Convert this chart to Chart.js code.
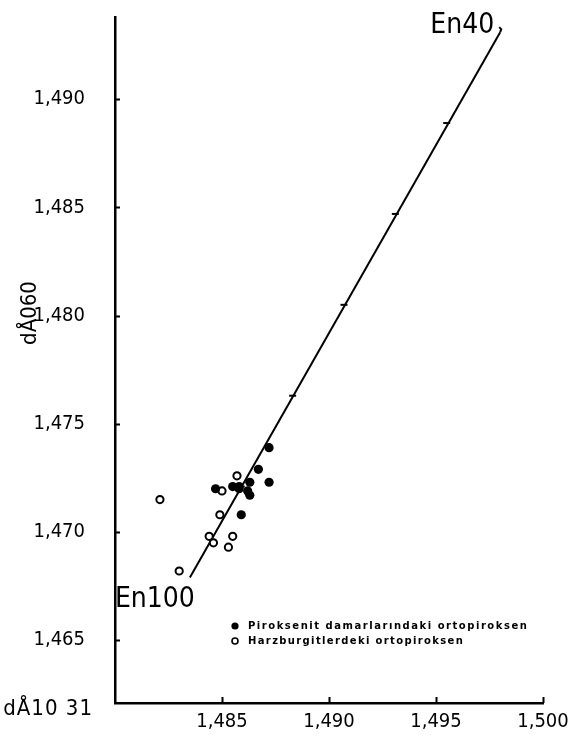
<!DOCTYPE html>
<html><head><meta charset="utf-8">
<script src="https://cdn.jsdelivr.net/npm/chart.js@4/dist/chart.umd.min.js"></script>
<style>html,body{margin:0;padding:0;background:#fff}#wrap{width:581px;height:737px;position:relative}canvas{display:block}</style>
</head><body><div id="wrap"><canvas id="c" width="581" height="737"></canvas></div>
<script>
// ---- data ----
const seriesNames = ['Piroksenit damarlarındaki ortopiroksen', 'Harzburgitlerdeki ortopiroksen'];
// filled circles: pyroxenite veins
const filledX = [1.4872, 1.4867, 1.4872, 1.4863, 1.4855, 1.4858, 1.4862, 1.4863, 1.4847, 1.4859, 1.4858];
const filledY = [1.4739, 1.4729, 1.4723, 1.4723, 1.4721, 1.4720, 1.4719, 1.4717, 1.4720, 1.4708, 1.4721];
// open circles: harzburgites
const openX = [1.4821, 1.4857, 1.4850, 1.4849, 1.4844, 1.4846, 1.4855, 1.4853, 1.4830];
const openY = [1.4715, 1.4726, 1.4719, 1.4708, 1.4698, 1.4695, 1.4698, 1.4693, 1.4682];
// En100 - En40 reference line
const lineLabels = ['En100', 'En40'];
const lineX = [1.4835, 1.4980];
const lineY = [1.4679, 1.4931];
// composition marks along the line (En90 ... En50)
const markX = [1.4859, 1.4883, 1.4907, 1.4931, 1.4955];
const markY = [1.4721, 1.4763, 1.4805, 1.4847, 1.4889];
// axes
const xTicks = [1.485, 1.490, 1.495, 1.500];
const yTicks = [1.465, 1.470, 1.475, 1.480, 1.485, 1.490];
const xAxisLabel = 'dÅ10 31';
const yAxisLabel = 'dÅ060';

const COND = "'DejaVu Sans Condensed', 'Liberation Sans Narrow', sans-serif";
const fmt = v => Number(v).toFixed(3).replace('.', ',');
const pts = (xs, ys) => xs.map((x, i) => ({x, y: ys[i]}));

const overlay = {
  id: 'overlay',
  afterDraw(chart) {
    const {ctx, scales: {x, y}, chartArea: a} = chart;
    ctx.save();
    ctx.strokeStyle = '#000';
    ctx.fillStyle = '#000';
    ctx.lineWidth = 2;
    // inside tick marks
    yTicks.forEach(v => { const py = Math.round(y.getPixelForValue(v)) + 0.5; ctx.beginPath(); ctx.moveTo(a.left, py); ctx.lineTo(a.left + 5, py); ctx.stroke(); });
    xTicks.forEach(v => { const px = Math.round(x.getPixelForValue(v)) + 0.5; ctx.beginPath(); ctx.moveTo(px, a.bottom); ctx.lineTo(px, a.bottom - 6); ctx.stroke(); });
    // end labels of the line
    ctx.font = '28px ' + COND;
    ctx.textBaseline = 'alphabetic';
    const x0 = x.getPixelForValue(lineX[0]), y0 = y.getPixelForValue(lineY[0]);
    const x1 = x.getPixelForValue(lineX[1]), y1 = y.getPixelForValue(lineY[1]);
    ctx.textAlign = 'left';
    ctx.fillText(lineLabels[0], x0 - 75, y0 + 30);
    ctx.textAlign = 'right';
    ctx.fillText(lineLabels[1], x1 - 6, y1 + 1);
    // small hook at top of the line
    ctx.lineWidth = 2;
    ctx.beginPath(); ctx.moveTo(x1, y1); ctx.lineTo(x1 + 1, y1 - 3); ctx.lineTo(x1 - 1, y1 - 5); ctx.stroke();
    // axis labels
    ctx.font = '22px ' + COND;
    ctx.textAlign = 'right';
    ctx.letterSpacing = '1px';
    ctx.fillText(xAxisLabel, a.left - 22, a.bottom + 12);
    ctx.letterSpacing = '0px';
    ctx.save();
    ctx.translate(36, 313);
    ctx.rotate(-Math.PI / 2);
    ctx.textAlign = 'center';
    ctx.fillText(yAxisLabel, 0, 0);
    ctx.restore();
    // legend
    const lx = 235, ly = [626, 641], targetW = [279, 215];
    ctx.font = 'bold 10px "DejaVu Sans", sans-serif';
    ctx.textAlign = 'left';
    ctx.textBaseline = 'middle';
    seriesNames.forEach((name, i) => {
      ctx.beginPath();
      if (i === 0) { ctx.arc(lx, ly[i], 3.6, 0, Math.PI * 2); ctx.fill(); }
      else { ctx.lineWidth = 1.6; ctx.arc(lx, ly[i], 3, 0, Math.PI * 2); ctx.stroke(); }
      ctx.letterSpacing = '0px';
      const w = ctx.measureText(name).width;
      const ls = Math.max(0, (targetW[i] - w) / (name.length - 1));
      ctx.letterSpacing = ls.toFixed(2) + 'px';
      ctx.fillText(name, lx + 13, ly[i]);
    });
    ctx.restore();
  }
};

new Chart(document.getElementById('c'), {
  type: 'scatter',
  data: {
    datasets: [
      { label: seriesNames[0], data: pts(filledX, filledY), pointRadius: 4.6, pointBackgroundColor: '#000', pointBorderColor: '#000', pointBorderWidth: 0, order: 1 },
      { label: seriesNames[1], data: pts(openX, openY), pointRadius: 3.6, pointBackgroundColor: '#fff', pointBorderColor: '#000', pointBorderWidth: 2, order: 2 },
      { label: 'En', data: pts(lineX, lineY), showLine: true, borderColor: '#000', borderWidth: 2, pointRadius: 0, order: 4 },
      { label: 'marks', data: pts(markX, markY), pointStyle: 'line', pointRadius: 3.5, pointBorderColor: '#000', pointBorderWidth: 2, order: 3 }
    ]
  },
  options: {
    responsive: false,
    animation: false,
    devicePixelRatio: 1,
    layout: { padding: { left: 0, top: 17, right: 38, bottom: 0 } },
    plugins: { legend: { display: false }, tooltip: { enabled: false } },
    scales: {
      x: {
        type: 'linear', min: 1.480, max: 1.500,
        afterBuildTicks: s => { s.ticks = xTicks.map(v => ({value: v})); },
        afterFit: s => { s.height = 34; s.paddingLeft = 0; s.paddingRight = 0; s.paddingTop = 0; s.paddingBottom = 0; },
        grid: { display: false, drawTicks: false },
        border: { color: '#000', width: 2.5 },
        ticks: { padding: 7, color: '#000', autoSkip: false, maxRotation: 0, font: { family: COND, size: 20 }, callback: v => fmt(v) }
      },
      y: {
        type: 'linear', min: 1.4621, max: 1.4938,
        afterBuildTicks: s => { s.ticks = yTicks.map(v => ({value: v})); },
        afterFit: s => { s.width = 115; s.paddingLeft = 0; s.paddingRight = 0; s.paddingTop = 0; s.paddingBottom = 0; },
        grid: { display: false, drawTicks: false },
        border: { color: '#000', width: 2.5 },
        ticks: { padding: 30, color: '#000', autoSkip: false, font: { family: COND, size: 20 }, callback: v => fmt(v) }
      }
    }
  },
  plugins: [overlay]
});
</script>
</body></html>
